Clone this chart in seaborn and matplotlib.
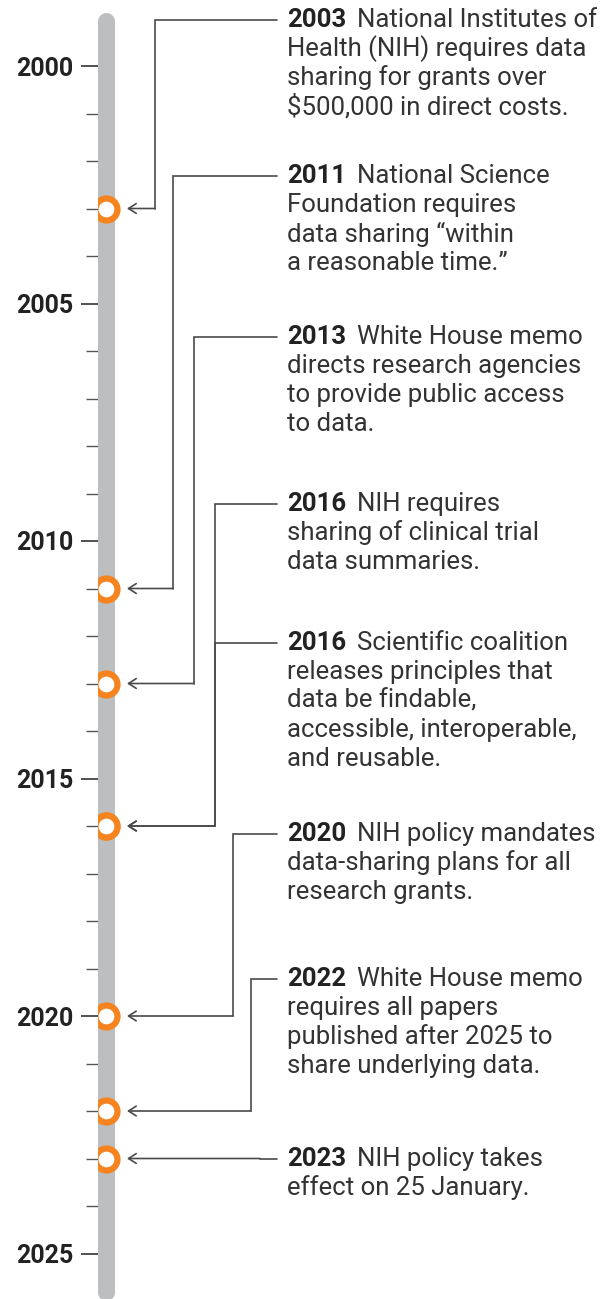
"""
Timeline of US data-sharing policies, drawn as a vertical year axis with annotated events.
"""

import matplotlib
matplotlib.use("Agg")
import matplotlib.pyplot as plt
from matplotlib.ticker import FixedLocator
import pandas as pd
import seaborn as sns

# event data
event_years = [2003, 2011, 2013, 2016, 2016, 2020, 2022, 2023]
event_lines = [
    ["National Institutes of", "Health (NIH) requires data",
     "sharing for grants over", "\\$500,000 in direct costs."],
    ["National Science", "Foundation requires",
     "data sharing \u201cwithin", "a reasonable time.\u201d"],
    ["White House memo", "directs research agencies",
     "to provide public access", "to data."],
    ["NIH requires", "sharing of clinical trial", "data summaries."],
    ["Scientific coalition", "releases principles that", "data be findable,",
     "accessible, interoperable,", "and reusable."],
    ["NIH policy mandates", "data-sharing plans for all", "research grants."],
    ["White House memo", "requires all papers",
     "published after 2025 to", "share underlying data."],
    ["NIH policy takes", "effect on 25 January."],
]
major_years = [2000, 2005, 2010, 2015, 2020, 2025]
minor_years = [y for y in range(2001, 2025) if y not in major_years]
timeline_start, timeline_end = 1999.05, 2025.8

# layout (pixels of the 609x1299 canvas)
W, H = 609, 1299
PX_2000, PX_PER_YEAR = 66, 47.5
BAR_X = 106
TEXT_X = 287
label_rows = [20, 176, 337, 504, 643, 834, 979, 1159]
elbow_x = [155, 173, 194, 215, 215, 233, 251, 260]

ORANGE = "#F5831F"
BAR_GREY = "#BDBEC0"
LINE_GREY = "#4A4A4A"
TEXT = "#333333"


def px_to_year(px):
    return 2000 + (px - PX_2000) / PX_PER_YEAR


sns.set_theme(style="white")
plt.rcParams["font.family"] = ["Roboto", "DejaVu Sans"]

fig = plt.figure(figsize=(W / 100, H / 100), dpi=100)
ax = fig.add_axes([98 / W, 0, 1 - 98 / W, 1])
ax.set_xlim(98, W)
ax.set_ylim(px_to_year(H), px_to_year(0))

# grey timeline bar
bar_df = pd.DataFrame({"x": [BAR_X, BAR_X], "year": [timeline_start, timeline_end]})
sns.lineplot(data=bar_df, x="x", y="year", orient="y", sort=False,
             color=BAR_GREY, linewidth=12.3, solid_capstyle="round", ax=ax,
             zorder=1)

# connectors from the text blocks to the events
for year, row, ex in zip(event_years, label_rows, elbow_x):
    row_year = px_to_year(row)
    ax.plot([277, ex, ex], [row_year, row_year, year], color=LINE_GREY,
            lw=1.2, solid_joinstyle="miter", zorder=2)
    ax.annotate("", xy=(127, year), xytext=(ex, year),
                arrowprops=dict(arrowstyle="->,head_length=0.55,head_width=0.35",
                                color=LINE_GREY, lw=1.2, shrinkA=0, shrinkB=0,
                                mutation_scale=10),
                zorder=2)

# event markers
ev_df = pd.DataFrame({"x": [BAR_X] * len(event_years), "year": event_years})
sns.scatterplot(data=ev_df, x="x", y="year", s=250, color="white",
                edgecolor=ORANGE, linewidth=4.5, ax=ax, zorder=3, legend=False)

# event texts
FS = 18.5
line_h = 29 / PX_PER_YEAR
for year, row, lines in zip(event_years, label_rows, event_lines):
    y0 = px_to_year(row)
    t_year = ax.text(TEXT_X, y0, str(year), fontsize=FS, fontweight="bold",
                     color="#222222", va="center", ha="left")
    ax.annotate(lines[0], xy=(1, 0.5), xycoords=t_year, xytext=(11, 0),
                textcoords="offset pixels", fontsize=FS, color=TEXT,
                va="center", ha="left")
    for i, line in enumerate(lines[1:], start=1):
        ax.text(TEXT_X, y0 + i * line_h, line, fontsize=FS, color=TEXT,
                va="center", ha="left")

# year axis
ax.yaxis.set_major_locator(FixedLocator(major_years))
ax.yaxis.set_minor_locator(FixedLocator(minor_years))
ax.set_yticklabels([str(y) for y in major_years], fontsize=18,
                   fontweight="bold", color="#222222")
ax.tick_params(axis="y", which="major", left=True, length=12.2, width=1.2,
               color="#333333", pad=5.5)
ax.tick_params(axis="y", which="minor", left=True, length=8.6, width=1.0,
               color="#555555")
ax.set_xticks([])
ax.set_xlabel("")
ax.set_ylabel("")
for spine in ax.spines.values():
    spine.set_visible(False)

fig.savefig("out.png", dpi=100)
